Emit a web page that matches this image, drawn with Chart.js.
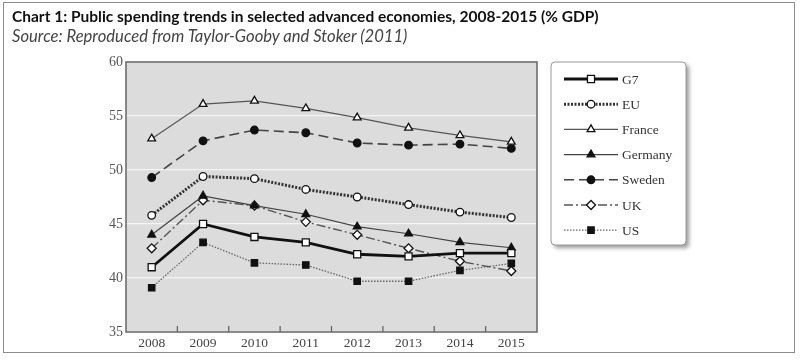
<html>
<head>
<script src="https://cdn.jsdelivr.net/npm/chart.js"></script>
<style>
  body { margin: 0; background: #fff; }
  #wrap { position: relative; width: 800px; height: 360px; }
  #frame { position: absolute; left: 3px; top: 2px; width: 790px; height: 349px; border: 1.5px solid #8c8c8c; pointer-events: none; }
  #title { position: absolute; left: 12px; top: 7px; font-family: Lato, sans-serif; font-weight: bold; font-size: 15.5px; color: #111; white-space: nowrap; }
  #subtitle { position: absolute; left: 12px; top: 26px; font-family: Lato, sans-serif; font-style: italic; font-size: 16.6px; color: #444; white-space: nowrap; }
</style>
</head>
<body>
<div id="wrap">
  <canvas id="lineChart" width="800" height="360"></canvas>
  <div id="frame"></div>
  <div id="title">Chart 1: Public spending trends in selected advanced economies, 2008-2015 (% GDP)</div>
  <div id="subtitle">Source: Reproduced from Taylor-Gooby and Stoker (2011)</div>
</div>

<script>
  // values (% of GDP)
  const years = ['2008', '2009', '2010', '2011', '2012', '2013', '2014', '2015'];
  const g7 = [41.0, 45.0, 43.8, 43.3, 42.2, 42.0, 42.3, 42.3];
  const eu = [45.8, 49.4, 49.2, 48.2, 47.5, 46.8, 46.1, 45.6];
  const france = [52.9, 56.1, 56.4, 55.7, 54.85, 53.9, 53.2, 52.6];
  const germany = [44.0, 47.6, 46.7, 45.9, 44.75, 44.1, 43.3, 42.8];
  const sweden = [49.3, 52.7, 53.7, 53.45, 52.5, 52.3, 52.4, 52.0];
  const uk = [42.75, 47.2, 46.7, 45.2, 44.0, 42.75, 41.55, 40.65];
  const us = [39.1, 43.3, 41.4, 41.2, 39.7, 39.7, 40.7, 41.35];
  const yTicks = [35, 40, 45, 50, 55, 60];

  const serif = "'Liberation Serif', 'DejaVu Serif', serif";

  function series(label, data, color, width, dash, style, radius, fill) {
    return {
      label: label,
      data: data,
      borderColor: color,
      borderWidth: width,
      borderDash: dash,
      pointStyle: style,
      pointRadius: radius,
      pointBackgroundColor: fill,
      pointBorderColor: '#111',
      pointBorderWidth: 1.3,
      tension: 0
    };
  }

  const datasets = [
    series('G7', g7, '#111', 2.8, [], 'rect', 5, '#fff'),
    series('EU', eu, '#333', 3, [2, 1.5], 'circle', 3.8, '#fff'),
    series('France', france, '#555', 1.2, [], 'triangle', 4.5, '#fff'),
    series('Germany', germany, '#444', 1.2, [], 'triangle', 4.5, '#111'),
    series('Sweden', sweden, '#444', 1.6, [10, 5], 'circle', 3.8, '#111'),
    series('UK', uk, '#555', 1.4, [9, 3, 2, 3], 'rectRot', 4.5, '#fff'),
    series('US', us, '#666', 1.3, [1.5, 1.5], 'rect', 4.5, '#111')
  ];

  // grey plot background, frame and the small inner tick marks
  const plotDeco = {
    id: 'plotDeco',
    beforeDraw(chart) {
      const a = chart.chartArea, ctx = chart.ctx;
      ctx.save();
      ctx.fillStyle = '#dcdcdc';
      ctx.fillRect(a.left, a.top, a.right - a.left, a.bottom - a.top);
      ctx.restore();
    },
    beforeDatasetsDraw(chart) {
      const a = chart.chartArea, ctx = chart.ctx, x = chart.scales.x;
      ctx.save();
      ctx.strokeStyle = '#666';
      ctx.lineWidth = 1.5;
      ctx.strokeRect(a.left, a.top, a.right - a.left, a.bottom - a.top);
      ctx.lineWidth = 1.3;
      ctx.beginPath();
      for (let i = 1; i < years.length; i++) {
        const px = (x.getPixelForValue(i - 1) + x.getPixelForValue(i)) / 2;
        ctx.moveTo(px, a.bottom);
        ctx.lineTo(px, a.bottom - 6);
      }
      ctx.stroke();
      ctx.restore();
    }
  };

  // boxed legend on the right
  const boxLegend = {
    id: 'boxLegend',
    afterDraw(chart) {
      const ctx = chart.ctx;
      ctx.save();
      ctx.shadowColor = 'rgba(0,0,0,0.4)';
      ctx.shadowBlur = 4;
      ctx.shadowOffsetX = 3;
      ctx.shadowOffsetY = 3;
      ctx.fillStyle = '#fff';
      ctx.beginPath();
      ctx.roundRect(551, 62, 135, 183, 4);
      ctx.fill();
      ctx.shadowColor = 'transparent';
      ctx.strokeStyle = '#999';
      ctx.lineWidth = 1;
      ctx.stroke();

      chart.data.datasets.forEach(function(ds, i) {
        const y = 79 + i * 25.2;
        ctx.strokeStyle = ds.borderColor;
        ctx.lineWidth = ds.borderWidth;
        ctx.setLineDash(ds.borderDash);
        ctx.beginPath();
        ctx.moveTo(564, y);
        ctx.lineTo(618, y);
        ctx.stroke();
        ctx.setLineDash([]);
        ctx.fillStyle = ds.pointBackgroundColor;
        ctx.strokeStyle = ds.pointBorderColor;
        ctx.lineWidth = ds.pointBorderWidth;
        Chart.helpers.drawPoint(ctx, {pointStyle: ds.pointStyle, radius: ds.pointRadius, rotation: 0, borderWidth: ds.pointBorderWidth}, 591, y);
        ctx.fillStyle = '#333';
        ctx.font = '13.5px ' + serif;
        ctx.textBaseline = 'middle';
        ctx.fillText(ds.label, 622, y + 1);
      });
      ctx.restore();
    }
  };

  new Chart(document.getElementById('lineChart'), {
    type: 'line',
    data: { labels: years, datasets: datasets },
    options: {
      responsive: false,
      animation: false,
      layout: { padding: { left: 96, top: 62, right: 263, bottom: 4 } },
      plugins: { legend: { display: false }, tooltip: { enabled: false } },
      scales: {
        x: {
          offset: true,
          grid: { display: false, drawTicks: false },
          border: { display: false },
          ticks: { color: '#444', font: { family: serif, size: 13.5 }, padding: 3 },
          afterFit(s) { s.height = 24; }
        },
        y: {
          min: 35,
          max: 60,
          afterBuildTicks(s) { s.ticks = yTicks.map(v => ({ value: v })); },
          grid: { color: '#f4f4f4', lineWidth: 1.2, drawTicks: false },
          border: { display: false },
          ticks: { color: '#555', font: { family: serif, size: 14 }, padding: 3 },
          afterFit(s) { s.width = 30; }
        }
      }
    },
    plugins: [plotDeco, boxLegend]
  });
</script>
</body>
</html>
